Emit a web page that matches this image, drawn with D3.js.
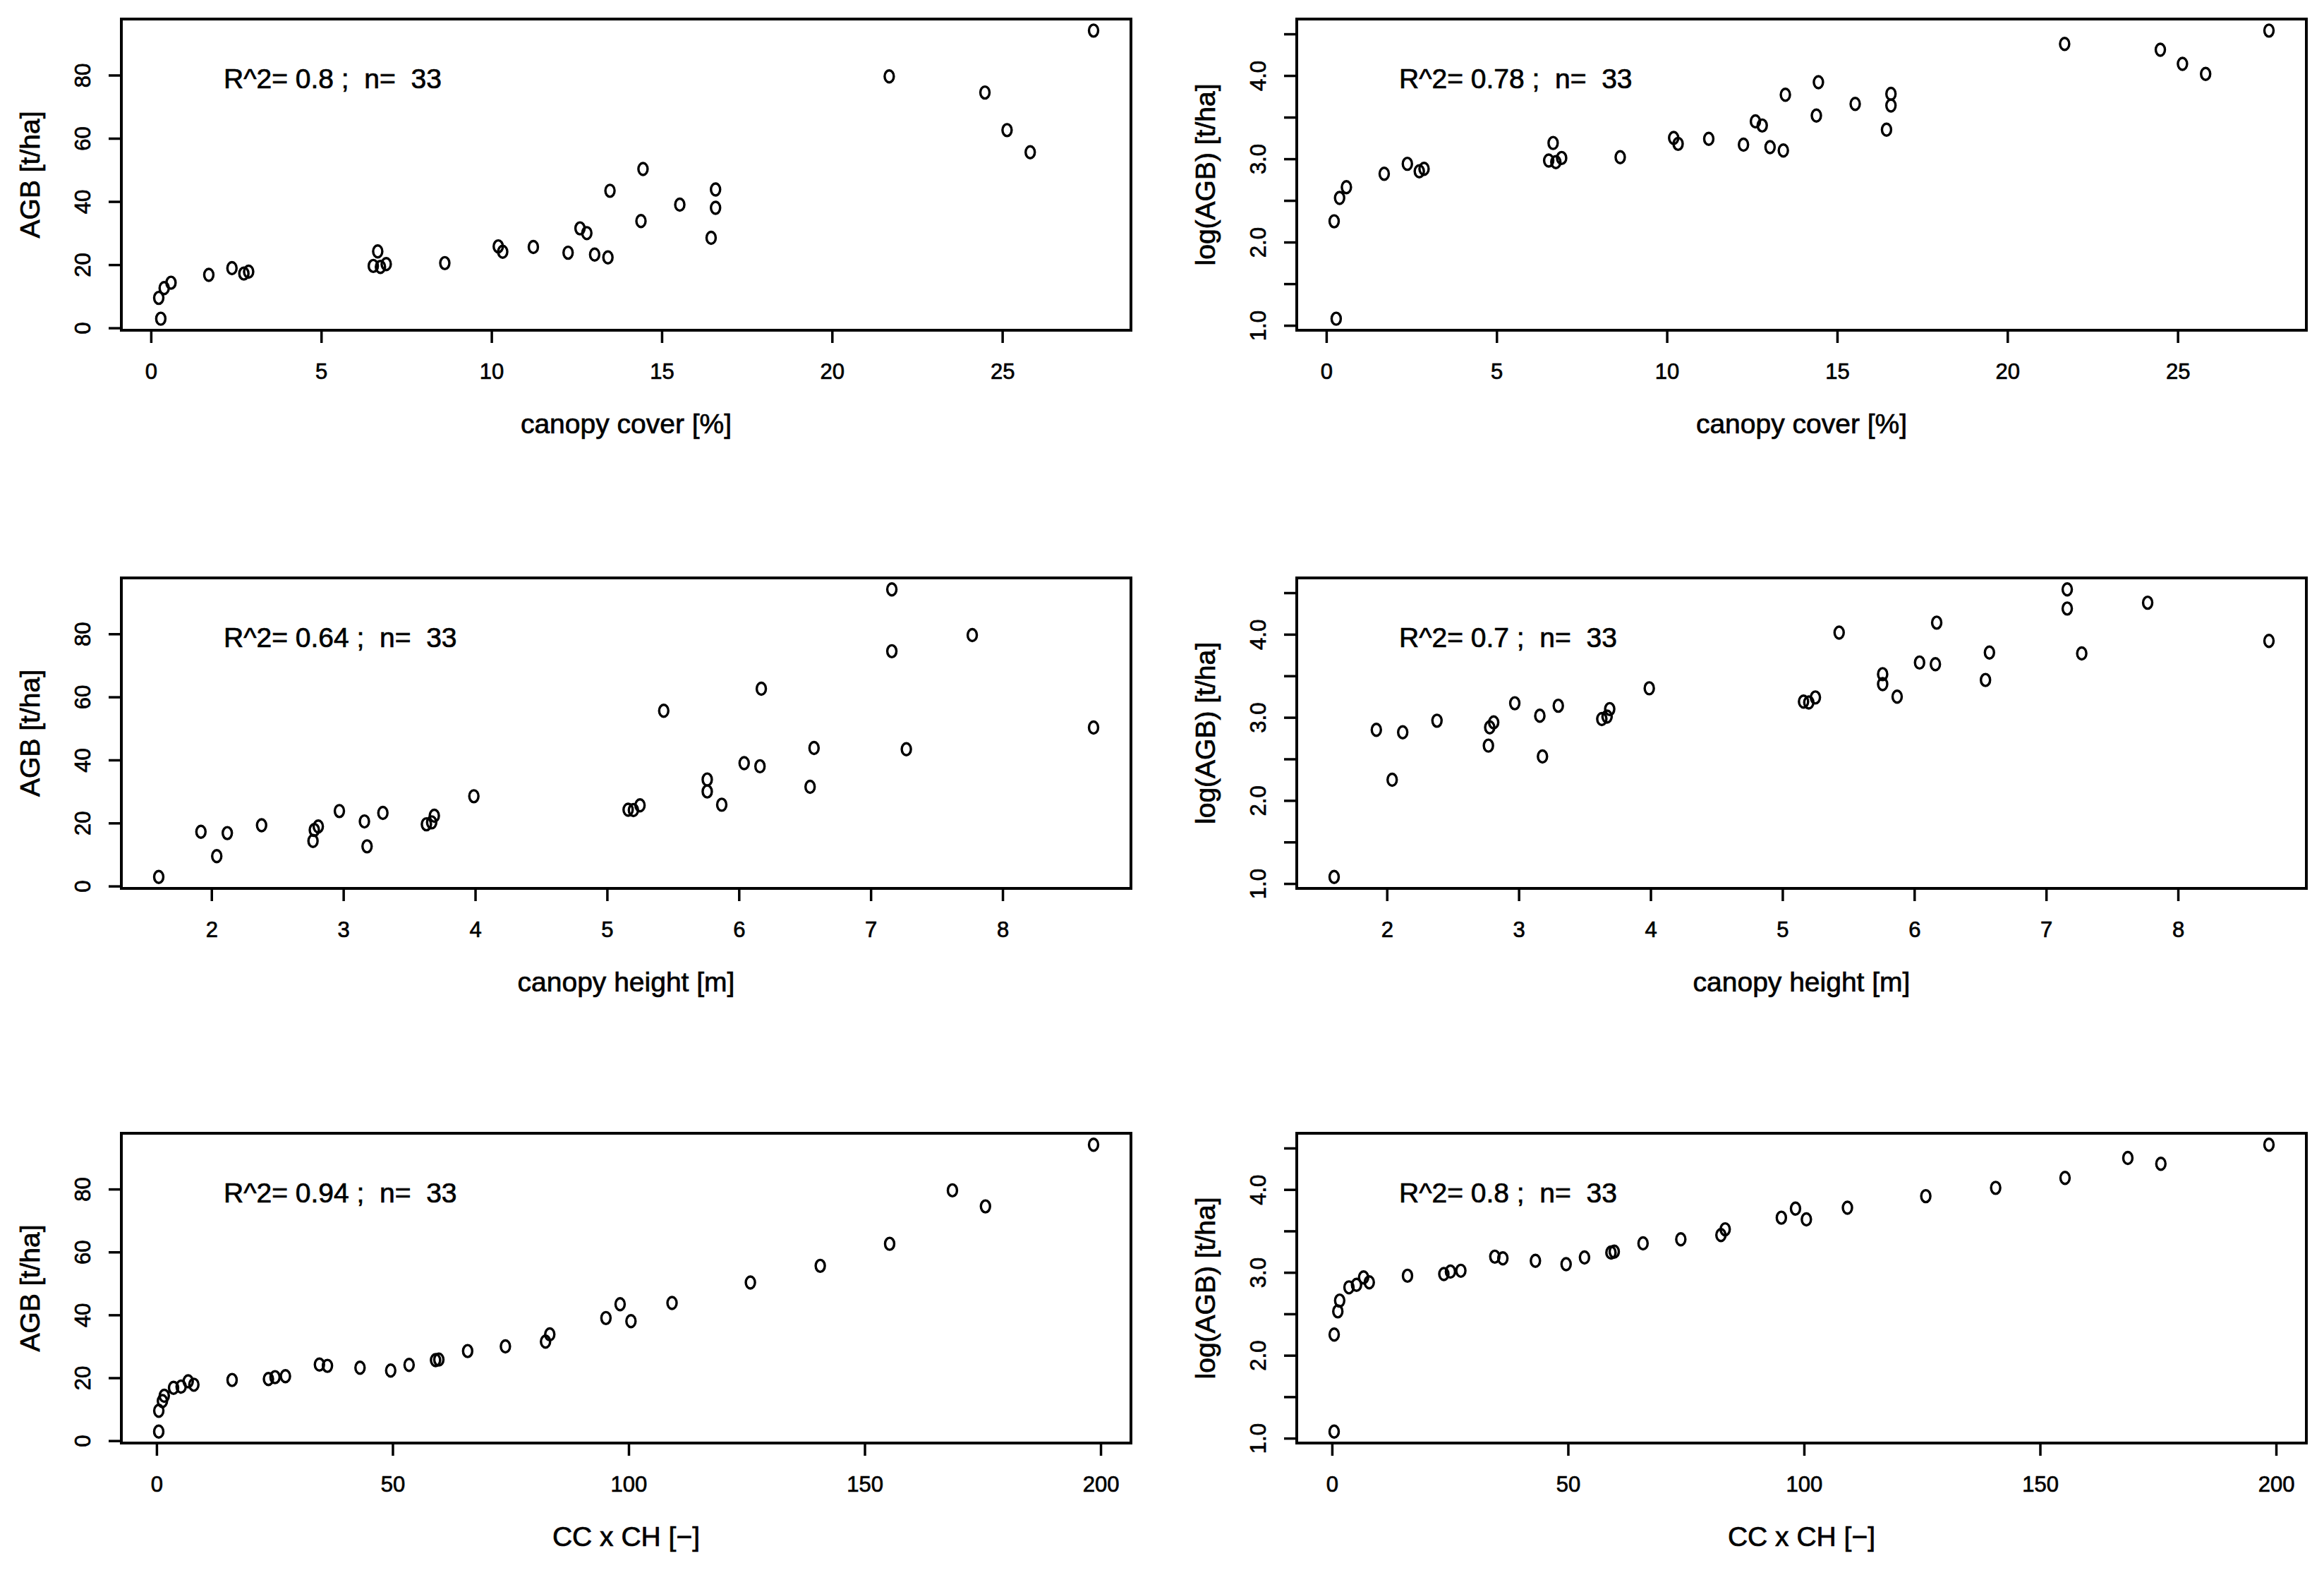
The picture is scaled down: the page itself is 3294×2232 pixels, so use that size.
<!DOCTYPE html>
<html>
<head>
<meta charset="utf-8">
<script src="https://cdn.jsdelivr.net/npm/d3@7"></script>
<style>
  html, body { margin: 0; padding: 0; background: #fff; }
  svg text { font-family: "Liberation Sans", Arial, Helvetica, sans-serif; fill: #000; stroke: #000; stroke-width: 0.7px; }
</style>
</head>
<body>
<svg id="chart" width="3294" height="2232"></svg>
<script>
// ---------------- data (33 plots) ----------------
const canopyCover = [0.29,0.23,0.39,0.59,1.70,2.38,2.73,2.87,6.66,6.74,6.53,8.63,10.20,10.33,11.23,12.25,12.60,12.80,13.03,13.42,13.48,14.45,14.39,15.53,16.58,16.58,16.45,21.68,24.49,25.14,25.82,27.68,6.91];
const canopyHeight = [1.60,2.04,3.18,2.77,2.12,2.81,1.92,2.78,5.16,2.38,3.63,3.16,5.87,5.20,5.25,2.97,6.54,5.76,3.30,3.69,7.27,8.69,5.76,6.04,6.57,6.16,3.99,7.77,7.16,6.17,5.43,7.16,3.67];
const agb = [2.9,9.5,12.6,14.3,16.8,18.9,17.2,17.8,24.2,19.3,19.6,20.5,25.8,24.1,25.6,23.8,31.5,30.0,23.2,22.3,43.4,50.3,33.8,39.0,43.8,38.0,28.5,79.6,74.5,62.6,55.6,94.1,20.2];
const logAgb = [1.08,2.25,2.53,2.66,2.82,2.94,2.85,2.88,3.19,2.96,2.98,3.02,3.25,3.18,3.24,3.17,3.45,3.40,3.14,3.10,3.77,3.92,3.52,3.66,3.78,3.64,3.35,4.38,4.31,4.14,4.02,4.54,3.01];
const ccTimesCh = [0.46,0.47,1.24,1.63,3.6,6.7,5.2,7.9,34.5,16.0,23.7,27.3,59.8,53.5,59.1,36.2,82.4,73.9,43.1,49.6,98.2,125.8,83.3,95.2,109.2,100.5,65.9,168.6,175.6,155.3,140.6,198.5,25.1];

const r2Values = ["0.8","0.78","0.64","0.7","0.94","0.8"];   // row-major: left, right
const nObs = 33;

const xTitles = ["canopy cover [%]", "canopy height [m]", "CC x CH [\u2212]"];
const yTitles = ["AGB [t/ha]", "log(AGB) [t/ha]"];

const xTicksCC = [0,5,10,15,20,25];
const xTicksCH = [2,3,4,5,6,7,8];
const xTicksCCCH = [0,50,100,150,200];
const yTicksAGB = [0,20,40,60,80];
const yTicksLog = [1.0,1.5,2.0,2.5,3.0,3.5,4.0,4.5];
const yLabelsLog = [1.0,2.0,3.0,4.0];

// ---------------- layout ----------------
const colX = [[172,1603],[1838,3269]];
const rowY = [[27,468],[819,1259],[1606,2045]];
const TICK = 18;

const xSeries = [canopyCover, canopyHeight, ccTimesCh];
const xTickSets = [xTicksCC, xTicksCH, xTicksCCCH];
const ySeries = [agb, logAgb];
const yTickSets = [yTicksAGB, yTicksLog];

function rDomain(arr){
  const [a,b] = d3.extent(arr); const r = b - a;
  return [a - 0.04*r, b + 0.04*r];
}

const svg = d3.select("#chart");
svg.append("rect").attr("width",3294).attr("height",2232).attr("fill","#fff");

for (let row = 0; row < 3; row++) {
  for (let col = 0; col < 2; col++) {
    const [x0,x1] = colX[col], [y0,y1] = rowY[row];
    const xs = xSeries[row], ys = ySeries[col];
    const x = d3.scaleLinear().domain(rDomain(xs)).range([x0,x1]);
    const y = d3.scaleLinear().domain(rDomain(ys)).range([y1,y0]);
    const g = svg.append("g");

    // x axis
    const xa = g.append("g").attr("transform",`translate(0,${y1})`)
      .call(d3.axisBottom(x).tickValues(xTickSets[row]).tickSize(TICK).tickFormat(d3.format("d")));
    xa.select(".domain").remove();
    xa.selectAll(".tick line").attr("stroke","#000").attr("stroke-width",3.5);
    xa.selectAll(".tick text").attr("y",47).attr("dy","0.71em")
      .attr("font-size",31).attr("font-family",null).attr("fill","#000");

    // y axis
    const fmt = col === 0 ? d3.format("d") : (d => yLabelsLog.includes(d) ? d3.format(".1f")(d) : "");
    const ya = g.append("g").attr("transform",`translate(${x0},0)`)
      .call(d3.axisLeft(y).tickValues(yTickSets[col]).tickSize(TICK).tickFormat(fmt));
    ya.select(".domain").remove();
    ya.selectAll(".tick line").attr("stroke","#000").attr("stroke-width",3.5);
    ya.selectAll(".tick text")
      .attr("x",null).attr("dy",null)
      .attr("transform","translate(-44,0) rotate(-90)")
      .attr("text-anchor","middle")
      .attr("font-size",31).attr("font-family",null).attr("fill","#000");

    // box
    g.append("rect").attr("x",x0).attr("y",y0).attr("width",x1-x0).attr("height",y1-y0)
      .attr("fill","none").attr("stroke","#000").attr("stroke-width",4);

    // points
    g.append("g").selectAll("ellipse").data(d3.range(xs.length)).join("ellipse")
      .attr("cx", i => x(xs[i])).attr("cy", i => y(ys[i]))
      .attr("rx",6.5).attr("ry",8.5)
      .attr("fill","none").attr("stroke","#000").attr("stroke-width",3.4);

    // R^2 annotation
    g.append("text").attr("x", x0 + 145).attr("y", y0 + 98)
      .attr("font-size",39).style("white-space","pre")
      .text(`R^2= ${r2Values[row*2+col]} ;  n=  ${nObs}`);

    // axis titles
    g.append("text").attr("x",(x0+x1)/2).attr("y",y1+146)
      .attr("text-anchor","middle").attr("font-size",39).text(xTitles[row]);
    g.append("text").attr("transform",`translate(${x0-116},${(y0+y1)/2}) rotate(-90)`)
      .attr("text-anchor","middle").attr("font-size",39).text(yTitles[col]);
  }
}
</script>
</body>
</html>
